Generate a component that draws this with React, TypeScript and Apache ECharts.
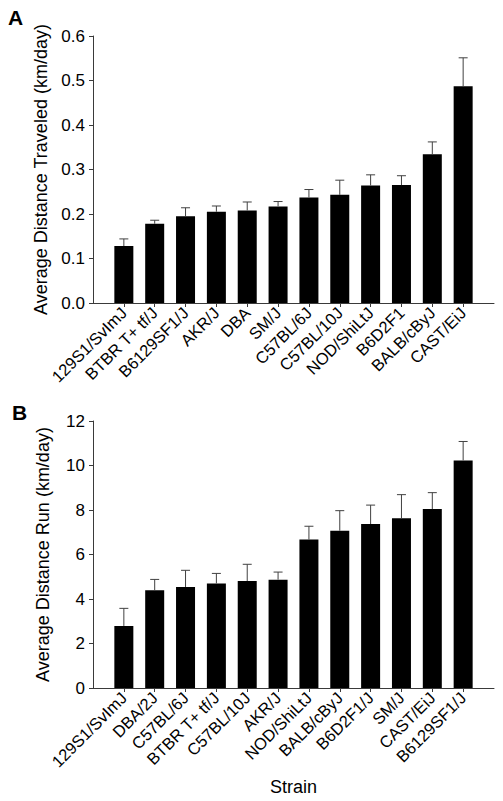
import React, { useEffect, useRef } from "react";
import * as echarts from "echarts";

const strainsA = ["129S1/SvImJ", "BTBR T+ tf/J", "B6129SF1/J", "AKR/J", "DBA", "SM/J", "C57BL/6J", "C57BL/10J", "NOD/ShiLtJ", "B6D2F1", "BALB/cByJ", "CAST/EiJ"];
const meansA = [0.128, 0.178, 0.195, 0.205, 0.208, 0.217, 0.237, 0.243, 0.264, 0.265, 0.334, 0.487];
const upperA = [0.144, 0.186, 0.214, 0.218, 0.227, 0.228, 0.255, 0.276, 0.288, 0.286, 0.362, 0.551];

const strainsB = ["129S1/SvImJ", "DBA/2J", "C57BL/6J", "BTBR T+ tf/J", "C57BL/10J", "AKR/J", "NOD/ShiLtJ", "BALB/cByJ", "B6D2F1/J", "SM/J", "CAST/EiJ", "B6129SF1/J"];
const meansB = [2.79, 4.39, 4.54, 4.7, 4.81, 4.87, 6.67, 7.07, 7.37, 7.63, 8.04, 10.23];
const upperB = [3.58, 4.88, 5.29, 5.15, 5.56, 5.21, 7.27, 7.97, 8.22, 8.69, 8.78, 11.08];

const ticksA = { min: 0, max: 0.6, interval: 0.1 };
const ticksB = { min: 0, max: 12, interval: 2 };

const FONT = "'Liberation Sans', Arial, sans-serif";
const AXIS_COLOR = "#3a3a3a";

function xAxisFor(gridIndex: number, cats: string[], name: string) {
  return {
    type: "category",
    gridIndex,
    data: ["", ...cats, ""],
    boundaryGap: false,
    name,
    nameLocation: "middle",
    nameGap: 90,
    nameTextStyle: { fontFamily: FONT, fontSize: 18, color: "#000" },
    axisLine: { show: true, lineStyle: { color: AXIS_COLOR, width: 1 } },
    axisTick: {
      show: true,
      length: 4,
      interval: (i: number) => i >= 1 && i <= cats.length,
      lineStyle: { color: AXIS_COLOR },
    },
    axisLabel: {
      interval: 0,
      rotate: 45,
      margin: 7,
      fontFamily: FONT,
      fontSize: 16.5,
      color: "#000",
    },
    splitLine: { show: false },
  };
}

function yAxisFor(gridIndex: number, t: { min: number; max: number; interval: number }, name: string, digits: number) {
  return {
    type: "value",
    gridIndex,
    min: t.min,
    max: t.max,
    interval: t.interval,
    name,
    nameLocation: "middle",
    nameGap: 41,
    nameTextStyle: { fontFamily: FONT, fontSize: 18, color: "#000" },
    axisLine: { show: true, lineStyle: { color: AXIS_COLOR, width: 1 } },
    axisTick: { show: true, length: 4, lineStyle: { color: AXIS_COLOR } },
    axisLabel: {
      margin: 8,
      fontFamily: FONT,
      fontSize: 17,
      color: "#000",
      formatter: (v: number) => v.toFixed(digits),
    },
    splitLine: { show: false },
  };
}

function errorSeries(idx: number, means: number[], uppers: number[]) {
  return {
    type: "custom",
    xAxisIndex: idx,
    yAxisIndex: idx,
    data: means.map((m, i) => [i + 1, m, uppers[i]]),
    encode: { x: 0, y: [1, 2] },
    z: 10,
    renderItem: (params: any, api: any) => {
      const x = api.value(0);
      const lo = api.coord([x, api.value(1)]);
      const hi = api.coord([x, api.value(2)]);
      const half = 4.5;
      const style = { stroke: "#404040", lineWidth: 1 };
      return {
        type: "group",
        children: [
          { type: "line", shape: { x1: lo[0], y1: lo[1], x2: hi[0], y2: hi[1] }, style },
          { type: "line", shape: { x1: hi[0] - half, y1: hi[1], x2: hi[0] + half, y2: hi[1] }, style },
        ],
      };
    },
  };
}

export default function App() {
  const ref = useRef<HTMLDivElement>(null);
  useEffect(() => {
    if (!ref.current) return;
    const chart = echarts.init(ref.current, undefined, { renderer: "svg" });
    chart.setOption({
      animation: false,
      backgroundColor: "#fff",
      textStyle: { fontFamily: FONT },
      grid: [
        { left: 93, top: 36, width: 401, height: 267 },
        { left: 93, top: 421, width: 401, height: 267 },
      ],
      xAxis: [xAxisFor(0, strainsA, ""), xAxisFor(1, strainsB, "Strain")],
      yAxis: [
        yAxisFor(0, ticksA, "Average Distance Traveled (km/day)", 1),
        yAxisFor(1, ticksB, "Average Distance Run (km/day)", 0),
      ],
      series: [
        {
          type: "bar",
          xAxisIndex: 0,
          yAxisIndex: 0,
          data: meansA.map((v, i) => [i + 1, v]),
          barWidth: 19,
          itemStyle: { color: "#000" },
        },
        errorSeries(0, meansA, upperA),
        {
          type: "bar",
          xAxisIndex: 1,
          yAxisIndex: 1,
          data: meansB.map((v, i) => [i + 1, v]),
          barWidth: 19,
          itemStyle: { color: "#000" },
        },
        errorSeries(1, meansB, upperB),
      ],
      graphic: [
        { type: "text", left: 8, top: 7, style: { text: "A", fontFamily: FONT, fontWeight: "bold", fontSize: 21, fill: "#000" } },
        { type: "text", left: 12, top: 402, style: { text: "B", fontFamily: FONT, fontWeight: "bold", fontSize: 21, fill: "#000" } },
      ],
    });
    return () => chart.dispose();
  }, []);
  return (
    <div
      ref={ref}
      style={{ position: "fixed", left: 0, top: 0, width: 503, height: 801, background: "#fff" }}
    />
  );
}
